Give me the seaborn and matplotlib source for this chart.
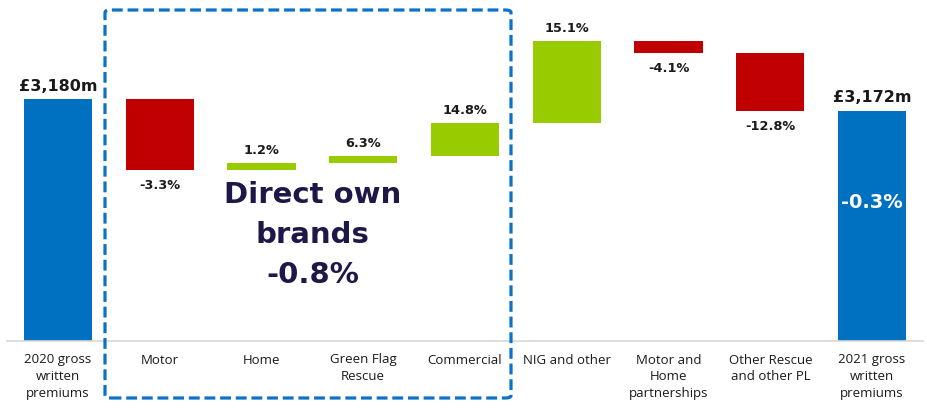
import matplotlib
matplotlib.use("Agg")
import matplotlib.pyplot as plt
from matplotlib.patches import FancyBboxPatch
import seaborn as sns
import pandas as pd
import numpy as np

# ---- data (display units; 1 unit ~ 1 px) ----
categories = ["2020 gross\nwritten\npremiums", "Motor", "Home", "Green Flag\nRescue",
              "Commercial", "NIG and other", "Motor and\nHome\npartnerships",
              "Other Rescue\nand other PL", "2021 gross\nwritten\npremiums"]
start_total = 242
step_changes = [-71, 7, 7, 33, 82, -12, -58]
step_labels = ["-3.3%", "1.2%", "6.3%", "14.8%", "15.1%", "-4.1%", "-12.8%"]
total_labels = ["£3,180m", "£3,172m"]
total_change_label = "-0.3%"
group_label = "Direct own\nbrands\n-0.8%"

BLUE = "#0070C0"
RED = "#C00000"
GREEN = "#99CC00"
NAVY = "#1E1848"
TEXT = "#1A1A1A"
BOLD_FONT = ["DejaVu Sans"]

# ---- waterfall geometry from data ----
end_total = start_total + sum(step_changes)
bottoms, heights, colors = [0], [start_total], [BLUE]
level = start_total
for d in step_changes:
    bottoms.append(min(level, level + d))
    heights.append(abs(d))
    colors.append(GREEN if d > 0 else RED)
    level += d
bottoms.append(0)
heights.append(end_total)
colors.append(BLUE)

df = pd.DataFrame({"cat": categories, "height": heights, "bottom": bottoms})

sns.set_theme(style="white")
plt.rcParams["font.family"] = ["Open Sans", "DejaVu Sans"]

fig = plt.figure(figsize=(9.28, 4.12), dpi=100)
ax = fig.add_axes([7 / 928, 71 / 412, 916 / 928, 336 / 412])

sns.barplot(data=df, x="cat", y="height", color=BLUE,
            bottom=df["bottom"].values, width=0.67, saturation=1, ax=ax, errorbar=None)
for patch, c in zip(ax.patches, colors):
    patch.set_facecolor(c)
    patch.set_edgecolor("none")

ax.set_ylim(0, 336)
ax.set_xlim(-0.5, len(categories) - 0.5)
for s in ["top", "right", "left"]:
    ax.spines[s].set_visible(False)
ax.spines["bottom"].set_color("#D9D9D9")
ax.spines["bottom"].set_linewidth(1.2)
ax.set_xlabel("")
ax.set_ylabel("")
ax.set_yticks([])
ax.tick_params(axis="x", length=0, pad=9, labelsize=9.5, labelcolor=TEXT)
for t in ax.get_xticklabels():
    t.set_linespacing(1.4)
    t.set_verticalalignment("top")

# ---- labels ----
ax.text(0, start_total + 5, total_labels[0], ha="center", va="bottom",
        fontsize=11.5, fontweight="bold", color=TEXT, family=BOLD_FONT)
ax.text(len(categories) - 1, end_total + 6, total_labels[1], ha="center", va="bottom",
        fontsize=11.5, fontweight="bold", color=TEXT, family=BOLD_FONT)
ax.text(len(categories) - 1, end_total - 92, total_change_label, ha="center", va="center",
        fontsize=14, fontweight="bold", color="white", family=BOLD_FONT)

level = start_total
for i, (d, lab) in enumerate(zip(step_changes, step_labels), start=1):
    new = level + d
    if d > 0:
        ax.text(i, new + 6, lab, ha="center", va="bottom", fontsize=9.3,
                fontweight="bold", color=TEXT, family=BOLD_FONT)
    else:
        ax.text(i, new - 9, lab, ha="center", va="top", fontsize=9.3,
                fontweight="bold", color=TEXT, family=BOLD_FONT)
    level = new

ax.text(2.5, 160, group_label, ha="center", va="top", fontsize=21,
        fontweight="bold", color=NAVY, linespacing=1.55, family=BOLD_FONT)

# ---- dashed grouping box ----
box = FancyBboxPatch((105 / 928, 14 / 412), 406 / 928, 388 / 412,
                     boxstyle="round,pad=0,rounding_size=0.006",
                     transform=fig.transFigure, fill=False, edgecolor="#0A72C8",
                     linewidth=2.3, linestyle=(0, (3.4, 1.5)), clip_on=False)
fig.patches.append(box)

fig.savefig("out.png", dpi=100)
